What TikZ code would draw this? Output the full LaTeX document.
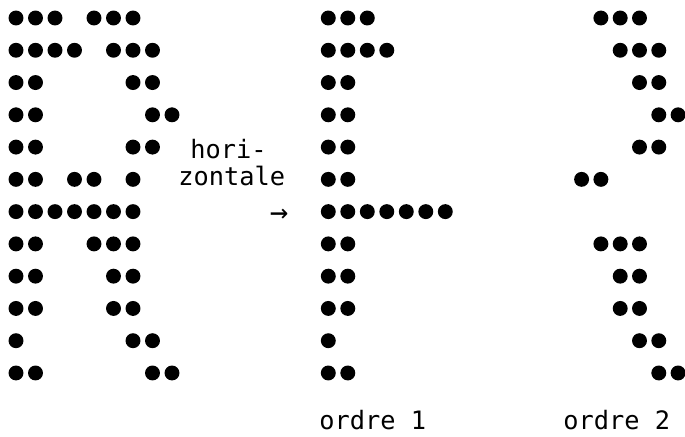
\documentclass[tikz,border=0pt]{standalone}
\usepackage{fontspec}
\setmonofont{DejaVu Sans Mono}
\begin{document}
\begin{tikzpicture}[x=0.75pt,y=-0.75pt,
  dot/.style={circle,fill=black,draw=none,inner sep=0pt,minimum size=11.2pt},
  lbl/.style={font=\ttfamily\fontsize{19}{23}\selectfont,inner sep=0pt,anchor=base west}]
\useasboundingbox (0,0) rectangle (685,436);
% left letter
\foreach \r/\cs in {0/{0,1,2,4,5,6},1/{0,1,2,3,5,6,7},2/{0,1,6,7},3/{0,1,7,8},
  4/{0,1,6,7},5/{0,1,3,4,6},6/{0,1,2,3,4,5,6},7/{0,1,4,5,6},8/{0,1,5,6},
  9/{0,1,5,6},10/{0,6,7},11/{0,1,7,8}}
  \foreach \c in \cs
    \node[dot] (L-\r-\c) at ({16+19.5*\c},{18+32.27*\r}) {};
% ordre 1
\foreach \r/\cs in {0/{0,1,2},1/{0,1,2,3},2/{0,1},3/{0,1},4/{0,1},5/{0,1},
  6/{0,1,2,3,4,5,6},7/{0,1},8/{0,1},9/{0,1},10/{0},11/{0,1}}
  \foreach \c in \cs
    \node[dot] (M-\r-\c) at ({328.3+19.5*\c},{18+32.27*\r}) {};
% ordre 2
\foreach \r/\cs in {0/{1,2,3},1/{2,3,4},2/{3,4},3/{4,5},4/{3,4},5/{0,1},
  7/{1,2,3},8/{2,3},9/{2,3},10/{3,4},11/{4,5}}
  \foreach \c in \cs
    \node[dot] (R-\r-\c) at ({581.6+19.3*\c},{18+32.27*\r}) {};
% labels
\node[lbl] (t1) at (190,158) {hori-};
\node[lbl] (t2) at (178,185) {zontale};
\node[font=\ttfamily\fontsize{23}{27}\selectfont,inner sep=0pt] (arr) at (279,216) {→};
\node[lbl] (o1) at (319,429) {ordre 1};
\node[lbl] (o2) at (563,429) {ordre 2};
\end{tikzpicture}
\end{document}
